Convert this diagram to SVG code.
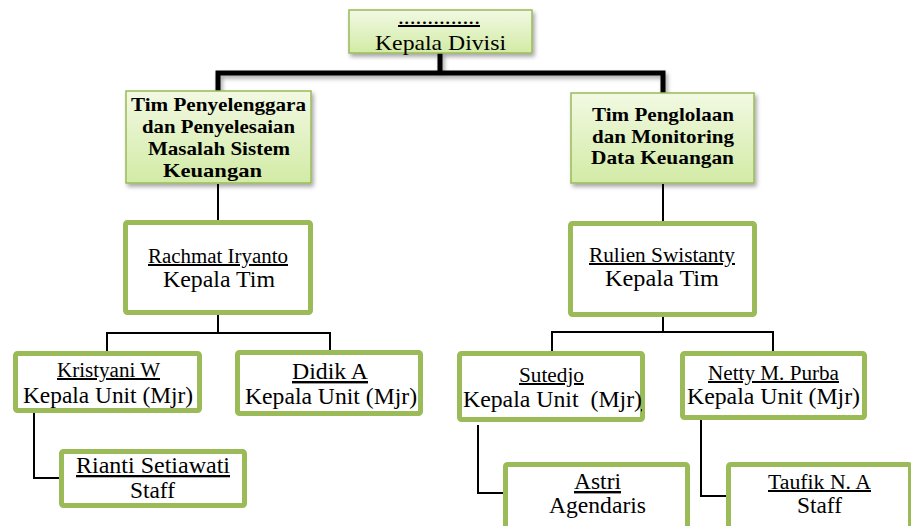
<svg xmlns="http://www.w3.org/2000/svg" width="911" height="526" viewBox="0 0 911 526">
<defs>
  <linearGradient id="gfill" x1="0" y1="0" x2="0" y2="1">
    <stop offset="0" stop-color="#f2f9e3"/>
    <stop offset="1" stop-color="#d2eba5"/>
  </linearGradient>
  <filter id="shadow" x="-10%" y="-10%" width="125%" height="135%">
    <feDropShadow dx="2" dy="3" stdDeviation="2" flood-color="#000" flood-opacity="0.35"/>
  </filter>
  <style>
    .thin { fill: url(#gfill); stroke: #9bbb59; stroke-width: 1.5; filter: url(#shadow); }
    .thick { fill: #ffffff; stroke: #9bbb59; stroke-width: 5; }
    .t { fill: #000; text-anchor: middle; }
    .b { font-weight: bold; font-size: 19.5px; }
    .n { font-size: 20px; text-decoration: underline; }
    .r { font-size: 24px; }
    .conn { fill: none; stroke: #000; stroke-width: 2; }
    .conn-thick { fill: none; stroke: #000; stroke-width: 5; filter: url(#shadow); }
  </style>
</defs>
<rect width="911" height="526" fill="#ffffff"/>

<g id="connectors">
  <path class="conn-thick" d="M218 92 V73 H663 V94 M440 53 V73"/>
  <path class="conn" d="M218 184 V221"/>
  <path class="conn" d="M663 184 V222"/>
  <path class="conn" d="M107 351 V333 H330 V350 M218 315 V333"/>
  <path class="conn" d="M552 351 V332 H773 V351 M663 317 V332"/>
  <path class="conn" d="M34 413 V478 H60"/>
  <path class="conn" d="M478 425 V493 H504"/>
  <path class="conn" d="M701 420 V496 H727"/>
</g>

<g font-family="Liberation Serif, serif">
<g id="kepala-divisi">
  <rect class="thin" x="349" y="10" width="183" height="43"/>
  <text class="t n" x="439" y="24" textLength="82" lengthAdjust="spacingAndGlyphs">..............</text>
  <text class="t" x="440.5" y="50" font-size="22" textLength="131" lengthAdjust="spacingAndGlyphs">Kepala Divisi</text>
</g>

<g id="tim-penyelenggara">
  <rect class="thin" x="126" y="91" width="185" height="92"/>
  <text class="t b" x="218.5" y="111" textLength="175" lengthAdjust="spacingAndGlyphs">Tim Penyelenggara</text>
  <text class="t b" x="218.5" y="133" textLength="153" lengthAdjust="spacingAndGlyphs">dan Penyelesaian</text>
  <text class="t b" x="219" y="155" textLength="142" lengthAdjust="spacingAndGlyphs">Masalah Sistem</text>
  <text class="t b" x="212.5" y="177" textLength="99" lengthAdjust="spacingAndGlyphs">Keuangan</text>
</g>

<g id="tim-penglolaan">
  <rect class="thin" x="571" y="93" width="183" height="90"/>
  <text class="t b" x="663" y="121" textLength="142" lengthAdjust="spacingAndGlyphs">Tim Penglolaan</text>
  <text class="t b" x="663" y="143" textLength="142" lengthAdjust="spacingAndGlyphs">dan Monitoring</text>
  <text class="t b" x="662.5" y="164" textLength="143" lengthAdjust="spacingAndGlyphs">Data Keuangan</text>
</g>

<g id="rachmat">
  <rect class="thick" x="125.5" y="222.5" width="185" height="90" rx="2"/>
  <text class="t n" x="218" y="263" textLength="140" lengthAdjust="spacingAndGlyphs">Rachmat Iryanto</text>
  <text class="t r" x="219" y="287" textLength="112" lengthAdjust="spacingAndGlyphs">Kepala Tim</text>
</g>

<g id="rulien">
  <rect class="thick" x="570.5" y="223.5" width="184" height="91" rx="2"/>
  <text class="t n" x="662" y="262" textLength="146" lengthAdjust="spacingAndGlyphs">Rulien Swistanty</text>
  <text class="t r" x="662" y="286" textLength="114" lengthAdjust="spacingAndGlyphs">Kepala Tim</text>
</g>

<g id="kristyani">
  <rect class="thick" x="15.5" y="353.5" width="184" height="57" rx="2"/>
  <text class="t n" x="108.5" y="377" textLength="103" lengthAdjust="spacingAndGlyphs">Kristyani W</text>
  <text class="t r" x="108" y="403" textLength="170" lengthAdjust="spacingAndGlyphs">Kepala Unit (Mjr)</text>
</g>

<g id="didik">
  <rect class="thick" x="237.5" y="352.5" width="183" height="61" rx="2"/>
  <text class="t r" x="330" y="379" text-decoration="underline" textLength="76" lengthAdjust="spacingAndGlyphs">Didik A</text>
  <text class="t r" x="331" y="404" textLength="172" lengthAdjust="spacingAndGlyphs">Kepala Unit (Mjr)</text>
</g>

<g id="sutedjo">
  <rect class="thick" x="459.5" y="353.5" width="183" height="66" rx="2"/>
  <text class="t n" x="551.5" y="382" textLength="65" lengthAdjust="spacingAndGlyphs">Sutedjo</text>
  <text class="t r" x="552.5" y="407" style="white-space:pre" textLength="179" lengthAdjust="spacingAndGlyphs">Kepala Unit  (Mjr<tspan text-decoration="underline">)</tspan></text>
</g>

<g id="netty">
  <rect class="thick" x="682.5" y="353.5" width="182" height="64" rx="2"/>
  <text class="t n" x="773.5" y="380" textLength="131" lengthAdjust="spacingAndGlyphs">Netty M. Purba</text>
  <text class="t r" x="773.5" y="404" textLength="173" lengthAdjust="spacingAndGlyphs">Kepala Unit (Mjr)</text>
</g>

<g id="rianti">
  <rect class="thick" x="61.5" y="451.5" width="183" height="54" rx="2"/>
  <text class="t" x="153" y="473" font-size="23" text-decoration="underline" textLength="154" lengthAdjust="spacingAndGlyphs">Rianti Setiawati</text>
  <text class="t" x="152.5" y="498" font-size="23" textLength="45" lengthAdjust="spacingAndGlyphs">Staff</text>
</g>

<g id="astri">
  <rect class="thick" x="505.5" y="464.5" width="182" height="70" rx="2"/>
  <text class="t r" x="597.5" y="489" text-decoration="underline" textLength="47" lengthAdjust="spacingAndGlyphs">Astri</text>
  <text class="t r" x="597.5" y="513" textLength="97" lengthAdjust="spacingAndGlyphs">Agendaris</text>
</g>

<g id="taufik">
  <rect class="thick" x="728.5" y="464.5" width="182" height="70" rx="2"/>
  <text class="t n" x="819.5" y="489" textLength="103" lengthAdjust="spacingAndGlyphs">Taufik N. A</text>
  <text class="t r" x="819.5" y="513" textLength="45" lengthAdjust="spacingAndGlyphs">Staff</text>
</g>
</g>
</svg>
